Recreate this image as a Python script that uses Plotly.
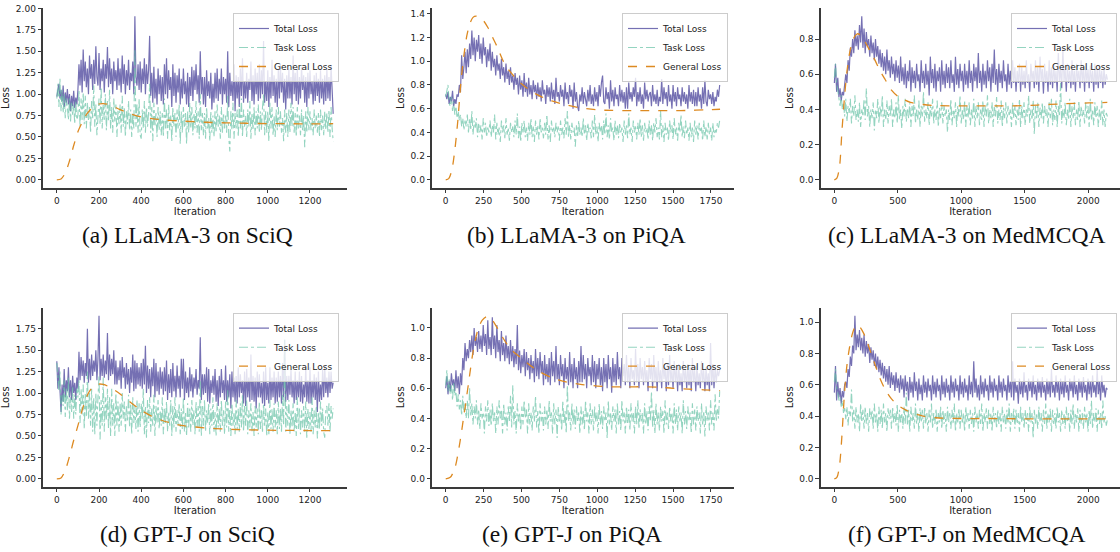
import plotly.graph_objects as go

# ---------------- data ----------------
# (a) LLaMA-3 on SciQ, sampled every 5 iterations
a_step = 5
a_total = [0.97,1.08,1.12,0.95,1.05,0.92,1.10,0.85,1.02,0.90,1.06,0.88,1.00,0.80,0.98,0.86,1.04,0.84,0.96,0.88,
           1.05,1.35,1.10,1.40,1.02,1.52,1.15,1.38,1.08,1.30,1.00,1.45,1.18,1.35,1.05,1.40,1.12,1.56,1.20,1.10,
           1.48,1.05,1.30,1.15,1.40,1.02,1.35,1.18,1.55,1.08,1.42,1.12,1.30,1.00,1.38,1.15,1.28,1.05,1.42,1.10,
           1.30,1.02,1.45,1.12,1.35,1.00,1.28,1.10,1.40,1.05,1.25,1.15,1.38,1.00,1.91,1.20,1.10,1.35,1.05,1.38,
           1.02,1.30,1.12,1.42,1.00,1.35,1.12,1.28,1.68,0.98,1.25,0.90,1.32,0.95,1.18,0.88,1.30,1.00,1.22,0.92,
           1.20,0.88,1.35,1.00,1.42,0.95,1.28,1.05,1.20,0.85,1.35,0.98,1.25,0.90,1.22,1.02,1.30,0.88,1.18,0.95,
           1.30,1.00,1.15,0.88,1.25,0.85,1.20,0.98,1.32,0.92,1.28,1.05,1.35,1.00,1.22,0.90,1.50,1.00,1.20,0.88,
           1.20,0.85,1.28,0.98,1.15,0.95,1.25,0.82,1.12,0.90,1.25,0.95,1.30,0.92,1.18,1.00,1.30,0.88,1.20,1.00,
           1.18,0.90,1.50,0.85,1.25,0.98,1.15,0.92,1.35,0.80,1.22,0.95,1.20,0.85,1.30,0.98,1.42,0.90,1.15,0.95,
           1.25,0.90,1.18,1.05,1.38,0.92,1.22,0.88,1.30,1.00,1.25,0.92,1.35,0.95,1.28,1.00,1.62,0.90,1.15,0.92,
           1.28,0.85,1.20,0.95,1.40,0.98,1.22,0.90,1.18,0.85,1.30,0.95,1.35,1.02,1.25,0.90,1.18,0.82,1.22,0.95,
           1.30,0.95,1.20,0.88,1.45,1.00,1.25,0.92,1.32,0.88,1.20,0.95,1.32,1.05,1.22,0.90,1.20,0.85,1.25,0.95,
           1.28,1.00,1.15,0.88,1.22,0.92,1.25,0.98,1.18,0.90,1.28,0.95,1.18,0.88,1.22,0.92,1.30,0.95,1.20,0.92,
           1.33,1.05,0.77]
a_task = [0.95,1.12,0.85,1.18,0.80,1.05,0.78,1.00,0.72,0.95,0.85,0.70,0.95,0.68,0.90,0.75,0.88,0.65,0.92,0.70,
          0.75,1.05,0.62,0.95,0.70,1.02,0.65,0.98,0.60,0.90,0.70,0.85,0.55,0.92,0.72,1.10,0.62,0.88,0.52,0.80,
          0.95,0.65,1.08,0.60,0.88,0.70,1.00,0.58,0.92,0.68,1.05,0.60,0.85,0.55,0.95,0.68,0.88,0.50,0.82,0.65,
          0.88,0.55,0.98,0.62,0.85,0.50,0.80,0.65,0.92,0.58,0.82,0.50,0.78,0.60,1.53,0.62,0.88,0.55,0.95,0.52,
          0.48,0.82,0.60,0.92,0.55,0.85,0.62,0.78,1.12,0.55,0.85,0.45,0.90,0.62,0.78,0.50,0.85,0.58,0.80,0.52,
          0.78,0.50,0.95,0.60,0.82,0.48,0.88,0.58,0.75,0.45,0.85,0.62,0.78,0.50,0.82,0.60,0.88,0.42,0.80,0.55,
          0.85,0.62,0.78,0.42,0.80,0.55,0.90,0.60,0.85,0.52,0.78,0.60,0.92,0.55,0.80,0.48,1.00,0.58,0.78,0.52,
          0.78,0.48,0.85,0.60,0.72,0.45,0.80,0.55,0.75,0.50,0.80,0.55,0.88,0.62,0.75,0.48,0.85,0.55,0.78,0.60,
          0.75,0.55,0.98,0.50,0.33,0.80,0.58,0.90,0.48,0.78,0.60,0.82,0.50,0.88,0.60,0.95,0.50,0.82,0.62,0.75,
          0.50,0.82,0.62,0.92,0.48,0.78,0.58,0.85,0.52,0.80,0.60,0.88,0.55,0.80,0.58,0.85,1.00,0.52,0.80,0.55,
          0.80,0.45,0.90,0.60,0.85,0.52,0.75,0.50,0.82,0.58,0.85,0.62,0.80,0.55,0.72,0.45,0.82,0.55,0.78,0.50,
          0.82,0.55,0.90,0.62,0.85,0.55,0.78,0.50,0.85,0.60,0.75,0.52,0.82,0.58,0.75,0.38,0.80,0.55,0.85,0.58,
          0.80,0.58,0.72,0.52,0.82,0.60,0.75,0.55,0.78,0.50,0.82,0.58,0.75,0.52,0.80,0.58,0.78,0.55,0.82,0.50,
          0.85,0.60,0.45]
a_gen_it = [0,20,40,60,80,100,120,140,160,180,200,220,250,300,350,400,450,500,600,700,800,900,1000,1100,1200,1310]
a_gen = [0.0,0.01,0.08,0.22,0.40,0.56,0.67,0.76,0.82,0.86,0.885,0.89,0.875,0.82,0.77,0.735,0.715,0.70,0.685,0.672,
         0.665,0.66,0.655,0.655,0.652,0.655]

# (b) LLaMA-3 on PiQA, sampled every 7.5 iterations
b_step = 7.5
b_total = [0.72,0.68,0.74,0.64,0.70,0.66,0.75,0.62,0.68,0.64,0.72,0.70,0.80,0.74,1.05,0.85,0.95,1.08,0.90,1.10,
           0.95,1.15,1.02,1.26,1.05,1.20,1.00,1.18,1.08,1.22,1.02,1.15,0.98,1.20,1.05,1.12,0.95,1.10,1.00,1.15,
           0.92,1.08,0.95,1.02,0.88,1.05,0.92,0.98,0.85,1.02,0.88,0.95,0.82,0.98,0.85,0.92,0.80,0.95,0.82,0.88,
           0.76,0.90,0.80,0.86,0.72,0.88,0.76,0.84,0.70,0.90,0.74,0.82,0.70,0.86,0.72,0.80,0.68,0.84,0.74,0.80,
           0.68,0.82,0.70,0.78,0.66,0.84,0.72,0.76,0.64,0.80,0.70,0.78,0.66,0.82,0.68,0.76,0.64,0.86,0.70,0.74,
           0.66,0.80,0.70,0.76,0.62,0.82,0.68,0.74,0.64,0.80,0.70,0.76,0.60,0.82,0.66,0.74,0.62,0.58,0.72,0.66,
           0.78,0.64,0.74,0.68,0.62,0.76,0.66,0.80,0.64,0.72,0.62,0.78,0.66,0.74,0.62,0.80,0.70,0.82,0.88,0.66,
           0.64,0.78,0.68,0.74,0.60,0.84,0.66,0.76,0.62,0.78,0.68,0.72,0.62,0.80,0.66,0.76,0.65,0.74,0.60,0.78,
           0.60,0.82,0.68,0.74,0.66,0.78,0.70,0.86,0.62,0.74,0.66,0.78,0.64,0.72,0.60,0.82,0.68,0.76,0.66,0.72,
           0.74,0.62,0.80,0.66,0.72,0.64,0.76,0.62,0.70,0.66,0.85,0.64,0.78,0.68,0.74,0.62,0.80,0.66,0.72,0.60,
           0.80,0.66,0.74,0.62,0.78,0.68,0.72,0.62,0.78,0.66,0.74,0.64,0.72,0.60,0.80,0.66,0.74,0.64,0.76,0.62,
           0.74,0.62,0.78,0.66,0.72,0.60,0.78,0.64,0.84,0.66,0.62,0.76,0.68,0.72,0.64,0.74,0.62,0.70,0.66,0.76,
           0.70,0.80]
b_task = [0.70,0.74,0.80,0.65,0.62,0.70,0.58,0.66,0.55,0.62,0.52,0.58,0.50,0.55,0.45,0.52,0.42,0.50,0.45,0.55,
          0.40,0.52,0.42,0.58,0.38,0.50,0.44,0.52,0.36,0.48,0.40,0.46,0.34,0.52,0.40,0.48,0.36,0.44,0.40,0.50,
          0.36,0.46,0.40,0.55,0.34,0.48,0.38,0.44,0.32,0.50,0.40,0.46,0.35,0.52,0.38,0.44,0.33,0.48,0.40,0.45,
          0.36,0.50,0.38,0.56,0.35,0.45,0.32,0.48,0.40,0.50,0.36,0.44,0.33,0.48,0.38,0.52,0.36,0.45,0.32,0.50,
          0.38,0.46,0.34,0.52,0.40,0.44,0.35,0.48,0.38,0.55,0.34,0.46,0.32,0.50,0.40,0.44,0.36,0.48,0.40,0.45,
          0.33,0.50,0.38,0.44,0.35,0.52,0.38,0.58,0.36,0.46,0.34,0.48,0.40,0.44,0.28,0.46,0.36,0.50,0.38,0.44,
          0.36,0.52,0.38,0.46,0.33,0.48,0.40,0.44,0.35,0.50,0.36,0.55,0.38,0.45,0.32,0.48,0.40,0.46,0.34,0.50,
          0.38,0.56,0.36,0.46,0.34,0.52,0.40,0.44,0.33,0.50,0.38,0.46,0.35,0.48,0.40,0.44,0.32,0.50,0.38,0.46,
          0.35,0.56,0.38,0.44,0.32,0.50,0.40,0.45,0.34,0.48,0.38,0.52,0.36,0.46,0.33,0.48,0.40,0.44,0.34,0.50,
          0.38,0.46,0.33,0.48,0.40,0.52,0.36,0.44,0.34,0.58,0.36,0.46,0.32,0.48,0.38,0.44,0.33,0.50,0.40,0.46,
          0.34,0.52,0.38,0.44,0.33,0.48,0.40,0.55,0.36,0.45,0.35,0.50,0.38,0.44,0.33,0.48,0.36,0.44,0.32,0.50,
          0.38,0.46,0.34,0.48,0.40,0.44,0.33,0.50,0.36,0.45,0.34,0.48,0.38,0.44,0.33,0.48,0.36,0.42,0.40,0.48,
          0.44,0.50]
b_gen_it = [0,20,40,60,80,100,120,140,160,180,200,220,250,280,310,340,380,420,460,500,550,600,650,700,800,900,
            1000,1100,1200,1300,1400,1500,1600,1700,1810]
b_gen = [0.0,0.01,0.08,0.25,0.50,0.82,1.05,1.22,1.32,1.37,1.38,1.37,1.34,1.28,1.20,1.12,1.00,0.92,0.86,0.81,
         0.76,0.72,0.69,0.665,0.63,0.605,0.59,0.585,0.583,0.583,0.583,0.583,0.585,0.59,0.595]

# (c) LLaMA-3 on MedMCQA, sampled every 9 iterations
c_step = 9
c_total = [0.55,0.66,0.50,0.58,0.47,0.52,0.45,0.50,0.48,0.56,0.60,0.55,0.68,0.62,0.75,0.70,0.80,0.72,0.85,0.76,
           0.82,0.74,0.88,0.78,0.93,0.75,0.86,0.72,0.84,0.76,0.80,0.70,0.82,0.72,0.78,0.68,0.80,0.70,0.76,0.66,
           0.74,0.64,0.72,0.62,0.70,0.60,0.74,0.62,0.68,0.58,0.70,0.60,0.66,0.56,0.68,0.58,0.65,0.55,0.70,0.56,
           0.64,0.54,0.66,0.52,0.62,0.56,0.68,0.50,0.64,0.55,0.62,0.52,0.66,0.56,0.60,0.50,0.68,0.55,0.62,0.52,
           0.66,0.54,0.62,0.48,0.70,0.55,0.63,0.52,0.66,0.50,0.62,0.56,0.64,0.50,0.68,0.54,0.62,0.52,0.66,0.55,
           0.64,0.52,0.68,0.55,0.60,0.50,0.70,0.54,0.63,0.52,0.66,0.56,0.62,0.50,0.66,0.54,0.62,0.52,0.68,0.55,
           0.62,0.50,0.66,0.56,0.64,0.52,0.72,0.55,0.62,0.50,0.66,0.54,0.62,0.52,0.68,0.56,0.64,0.50,0.66,0.55,
           0.74,0.54,0.63,0.50,0.66,0.55,0.62,0.52,0.68,0.56,0.60,0.50,0.66,0.54,0.62,0.52,0.68,0.55,0.64,0.50,
           0.62,0.55,0.66,0.50,0.64,0.54,0.62,0.52,0.68,0.55,0.60,0.50,0.66,0.56,0.62,0.52,0.68,0.54,0.64,0.50,
           0.70,0.56,0.63,0.49,0.66,0.55,0.62,0.50,0.68,0.54,0.64,0.52,0.66,0.55,0.62,0.50,0.72,0.56,0.63,0.52,
           0.75,0.56,0.63,0.50,0.66,0.55,0.62,0.52,0.68,0.54,0.62,0.50,0.66,0.56,0.62,0.52,0.68,0.55,0.64,0.50,
           0.66,0.55,0.63,0.52,0.65,0.55,0.62,0.50,0.66,0.54,0.63,0.52,0.65,0.55,0.62,0.52,0.64,0.54,0.60,0.57]
c_task = [0.58,0.66,0.55,0.50,0.46,0.42,0.48,0.40,0.44,0.36,0.46,0.33,0.42,0.38,0.46,0.32,0.42,0.36,0.48,0.34,
          0.40,0.33,0.44,0.30,0.40,0.36,0.46,0.34,0.52,0.36,0.42,0.30,0.40,0.35,0.44,0.28,0.40,0.35,0.46,0.32,
          0.42,0.36,0.48,0.30,0.40,0.34,0.45,0.32,0.42,0.36,0.46,0.30,0.40,0.35,0.44,0.32,0.48,0.34,0.40,0.29,
          0.42,0.36,0.46,0.33,0.40,0.35,0.44,0.30,0.42,0.36,0.48,0.32,0.40,0.34,0.45,0.30,0.42,0.36,0.50,0.33,
          0.40,0.35,0.44,0.31,0.42,0.36,0.46,0.32,0.40,0.34,0.45,0.30,0.41,0.35,0.44,0.32,0.42,0.36,0.40,0.27,
          0.40,0.34,0.46,0.31,0.40,0.35,0.44,0.30,0.42,0.36,0.48,0.32,0.40,0.34,0.45,0.30,0.42,0.35,0.44,0.31,
          0.40,0.34,0.46,0.30,0.42,0.35,0.44,0.31,0.40,0.34,0.45,0.30,0.42,0.36,0.48,0.32,0.40,0.35,0.44,0.30,
          0.42,0.36,0.47,0.32,0.40,0.34,0.45,0.30,0.41,0.35,0.44,0.32,0.42,0.36,0.40,0.30,0.44,0.35,0.42,0.31,
          0.40,0.34,0.46,0.30,0.42,0.35,0.44,0.31,0.40,0.36,0.48,0.32,0.40,0.34,0.45,0.26,0.42,0.35,0.44,0.30,
          0.41,0.35,0.44,0.32,0.42,0.36,0.40,0.30,0.44,0.35,0.46,0.31,0.40,0.34,0.45,0.30,0.42,0.36,0.55,0.32,
          0.40,0.35,0.44,0.31,0.40,0.34,0.46,0.30,0.42,0.35,0.44,0.31,0.40,0.34,0.45,0.30,0.42,0.36,0.40,0.32,
          0.44,0.35,0.42,0.30,0.46,0.34,0.40,0.31,0.44,0.35,0.42,0.30,0.40,0.34,0.45,0.31,0.40,0.30,0.38,0.36]
c_gen_it = [0,20,40,60,80,100,120,140,160,180,200,230,260,290,320,360,400,450,500,550,600,700,800,1000,1200,
            1400,1600,1800,2000,2150]
c_gen = [0.0,0.01,0.07,0.28,0.47,0.62,0.72,0.78,0.815,0.83,0.825,0.80,0.76,0.72,0.68,0.62,0.57,0.51,0.475,0.455,
         0.44,0.428,0.422,0.42,0.42,0.42,0.425,0.432,0.437,0.44]

# (d) GPT-J on SciQ, sampled every 5 iterations
d_step = 5
d_total = [1.37,1.05,1.30,1.00,0.78,1.10,0.90,1.28,0.95,1.15,1.02,1.30,0.95,1.15,0.92,1.20,1.00,1.12,0.92,1.18,
           1.05,1.48,1.15,1.42,1.20,1.38,1.12,1.35,1.20,1.75,1.12,1.40,1.15,1.45,1.20,1.38,1.25,1.50,1.15,1.40,
           1.90,1.15,1.40,1.20,1.45,1.18,1.38,1.22,1.70,1.15,1.45,1.20,1.40,1.22,1.50,1.10,1.38,1.10,1.30,1.15,
           1.38,1.05,1.42,1.18,1.30,1.05,1.35,1.10,1.28,1.00,1.30,1.12,1.45,1.02,1.38,1.05,1.35,1.10,1.30,1.08,
           1.35,1.05,1.40,1.10,1.55,1.00,1.32,1.05,1.28,0.95,1.30,1.08,1.40,0.95,1.35,1.02,1.25,0.98,1.30,1.05,
           1.25,0.98,1.30,1.02,1.38,0.92,1.22,1.00,1.28,0.95,1.35,1.02,1.20,0.95,1.32,1.05,1.20,0.95,1.40,1.05,
           1.40,0.92,1.25,1.00,1.18,0.95,1.30,1.02,1.22,0.95,1.18,1.05,1.28,0.98,1.15,1.05,1.65,0.92,1.22,0.98,
           1.22,1.00,1.30,0.90,1.28,0.88,1.15,1.00,1.20,0.98,1.28,0.90,1.15,0.85,1.20,0.95,1.28,1.00,1.15,0.92,
           1.32,0.90,1.15,0.95,1.22,0.82,1.25,0.95,1.18,0.90,1.20,0.88,1.30,0.95,1.22,1.00,1.15,0.88,1.25,0.85,
           1.28,0.95,1.18,0.90,1.45,0.92,1.20,0.90,1.18,0.82,1.25,0.95,1.22,0.95,1.12,0.88,1.25,0.85,1.30,0.92,
           1.12,0.88,1.30,0.92,1.18,0.95,1.25,0.88,1.18,0.90,1.25,0.95,1.20,0.88,1.35,0.95,1.62,0.90,1.20,0.92,
           1.20,0.98,1.28,0.95,1.15,0.88,1.25,0.92,1.15,0.95,1.25,0.90,1.20,0.88,1.10,0.95,1.30,0.90,1.15,0.88,
           1.30,0.88,1.15,0.95,1.22,0.92,1.18,0.78,1.25,0.90,1.10,0.92,1.28,0.95,1.32,1.00,1.18,0.95,1.25,1.00,
           1.25,1.05,1.12]
d_task = [1.35,1.15,1.02,1.25,0.75,0.98,0.85,1.15,0.72,1.05,0.80,1.18,0.70,0.95,0.78,1.08,0.70,0.98,0.75,1.05,
          0.95,1.15,0.65,1.05,0.75,1.10,0.58,1.00,0.72,1.25,0.70,1.00,0.62,1.05,0.55,0.95,0.52,1.00,0.62,0.95,
          1.20,0.46,0.92,0.62,1.18,0.55,0.95,0.68,1.05,0.58,0.95,0.50,1.05,0.62,0.88,0.50,1.00,0.62,0.90,0.55,
          0.88,0.62,1.00,0.70,0.90,0.55,0.85,0.68,0.98,0.60,0.88,0.52,0.95,0.65,0.85,0.58,0.92,0.55,0.88,0.60,
          0.88,0.70,1.05,0.52,0.85,0.48,0.92,0.65,0.95,0.55,0.82,0.62,0.98,0.50,0.85,0.65,0.92,0.58,0.80,0.62,
          0.95,0.52,0.82,0.65,0.90,0.55,0.78,0.62,0.92,0.50,0.85,0.60,0.95,0.55,0.80,0.62,0.88,0.52,0.82,0.58,
          0.95,0.55,0.78,0.50,0.88,0.60,0.82,0.55,0.92,0.62,0.80,0.52,0.90,0.60,0.85,0.55,1.15,0.50,0.85,0.62,
          0.92,0.55,0.80,0.65,0.88,0.52,0.82,0.62,0.95,0.55,0.78,0.50,0.88,0.60,0.82,0.55,0.92,0.62,0.80,0.52,
          0.90,0.60,1.05,0.55,0.82,0.50,0.88,0.62,0.78,0.52,0.92,0.58,0.82,0.55,0.88,0.60,0.98,0.55,0.85,0.62,
          0.92,0.52,0.80,0.60,0.88,0.55,0.78,0.50,0.85,0.60,0.82,0.52,0.90,0.58,0.80,0.55,0.88,0.62,0.82,0.50,
          0.78,0.52,0.92,0.58,0.82,0.55,0.88,0.60,0.80,0.52,0.90,0.58,0.82,0.55,0.98,0.62,1.62,0.55,0.85,0.62,
          0.92,0.52,0.80,0.60,0.88,0.55,0.78,0.50,0.95,0.58,0.82,0.52,0.80,0.60,0.85,0.55,0.90,0.48,0.82,0.58,
          0.78,0.55,0.95,0.52,0.80,0.60,0.85,0.47,0.78,0.58,0.90,0.62,0.82,0.55,0.48,0.80,0.85,0.62,0.88,0.55,
          0.85,0.70,0.82]
d_gen_it = [0,20,40,60,80,100,120,140,160,180,200,220,250,300,350,400,450,500,550,600,700,800,900,1000,1100,1200,1310]
d_gen = [0.0,0.01,0.10,0.26,0.45,0.62,0.80,0.95,1.04,1.09,1.105,1.10,1.07,0.99,0.89,0.80,0.73,0.68,0.645,0.62,
         0.595,0.58,0.572,0.567,0.565,0.563,0.563]

# (e) GPT-J on PiQA, sampled every 7.5 iterations
e_step = 7.5
e_total = [0.60,0.68,0.56,0.65,0.58,0.70,0.62,0.66,0.58,0.72,0.60,0.68,0.56,0.70,0.62,0.80,0.72,0.90,0.78,0.86,
           0.80,0.92,0.84,0.95,0.82,1.00,0.88,0.94,0.84,0.98,0.86,0.95,0.84,1.02,0.88,0.96,0.82,1.05,0.86,0.94,
           0.82,1.07,0.86,0.95,0.80,1.02,0.84,0.92,0.78,0.98,0.82,0.90,0.78,0.95,0.80,0.88,0.76,0.92,0.78,0.88,
           0.74,0.86,0.76,1.02,0.72,0.85,0.70,0.82,0.74,0.86,0.68,0.84,0.72,0.80,0.66,0.82,0.70,0.78,0.64,0.86,
           0.68,0.80,0.66,0.84,0.70,0.78,0.62,0.82,0.66,0.76,0.64,0.80,0.62,0.84,0.68,0.78,0.64,0.88,0.66,0.76,
           0.62,0.82,0.68,0.76,0.60,0.80,0.66,0.74,0.62,0.84,0.64,0.76,0.60,0.80,0.66,0.74,0.60,0.78,0.64,0.88,
           0.64,0.82,0.66,0.76,0.60,0.80,0.68,0.74,0.62,0.82,0.64,0.78,0.60,0.76,0.66,0.80,0.62,0.74,0.58,0.80,
           0.64,0.76,0.60,0.82,0.66,0.74,0.57,0.80,0.64,0.76,0.62,0.84,0.66,0.74,0.60,0.80,0.68,0.76,0.62,0.82,
           0.64,0.74,0.60,0.80,0.66,0.72,0.62,0.86,0.64,0.76,0.60,0.80,0.66,0.74,0.62,0.78,0.64,0.72,0.58,0.80,
           0.66,0.76,0.60,0.82,0.64,0.74,0.58,0.78,0.64,0.72,0.60,0.80,0.66,0.74,0.58,0.76,0.62,0.82,0.64,0.72,
           0.60,0.78,0.64,0.74,0.58,0.76,0.62,0.70,0.58,0.78,0.64,0.72,0.60,0.76,0.62,0.74,0.58,0.80,0.64,0.72,
           0.58,0.76,0.62,0.70,0.60,0.78,0.64,0.72,0.58,0.74,0.62,0.70,0.58,0.90,0.62,0.76,0.60,0.74,0.64,0.72,
           0.68,0.72]
e_task = [0.62,0.72,0.58,0.66,0.56,0.62,0.52,0.64,0.55,0.58,0.48,0.56,0.46,0.52,0.42,0.55,0.44,0.50,0.40,0.52,
          0.40,0.60,0.42,0.50,0.36,0.48,0.40,0.52,0.36,0.46,0.33,0.50,0.40,0.44,0.30,0.48,0.38,0.52,0.35,0.46,
          0.35,0.50,0.38,0.44,0.30,0.48,0.36,0.52,0.40,0.46,0.30,0.50,0.36,0.44,0.32,0.48,0.38,0.55,0.34,0.62,
          0.36,0.45,0.30,0.50,0.38,0.44,0.32,0.48,0.36,0.52,0.40,0.46,0.30,0.50,0.36,0.44,0.32,0.48,0.38,0.55,
          0.34,0.45,0.30,0.50,0.38,0.44,0.32,0.48,0.36,0.46,0.33,0.52,0.38,0.44,0.30,0.50,0.36,0.46,0.27,0.48,
          0.38,0.44,0.32,0.52,0.36,0.45,0.30,0.62,0.38,0.44,0.32,0.50,0.36,0.46,0.33,0.48,0.38,0.44,0.30,0.48,
          0.36,0.45,0.32,0.52,0.38,0.44,0.30,0.50,0.36,0.46,0.32,0.48,0.38,0.44,0.30,0.50,0.36,0.45,0.33,0.48,
          0.38,0.44,0.27,0.52,0.36,0.44,0.32,0.48,0.38,0.46,0.30,0.50,0.36,0.45,0.32,0.52,0.38,0.44,0.30,0.48,
          0.36,0.46,0.32,0.50,0.38,0.44,0.30,0.48,0.36,0.52,0.33,0.46,0.38,0.44,0.30,0.50,0.36,0.45,0.32,0.48,
          0.38,0.58,0.34,0.46,0.30,0.50,0.36,0.44,0.32,0.48,0.38,0.45,0.30,0.52,0.36,0.44,0.33,0.48,0.38,0.44,
          0.30,0.50,0.36,0.46,0.32,0.48,0.38,0.44,0.30,0.52,0.36,0.45,0.33,0.48,0.38,0.44,0.30,0.50,0.36,0.46,
          0.32,0.48,0.38,0.44,0.30,0.50,0.36,0.45,0.28,0.48,0.38,0.44,0.32,0.52,0.36,0.44,0.32,0.56,0.38,0.46,
          0.40,0.58]
e_gen_it = [0,30,60,90,120,150,180,210,240,270,300,340,380,420,460,500,560,620,700,800,900,1000,1100,1200,1300,
            1400,1500,1600,1700,1810]
e_gen = [0.0,0.01,0.07,0.22,0.42,0.63,0.84,0.98,1.05,1.075,1.06,1.00,0.93,0.87,0.83,0.80,0.75,0.71,0.67,0.64,
         0.625,0.615,0.61,0.61,0.61,0.608,0.60,0.595,0.59,0.585]

# (f) GPT-J on MedMCQA, sampled every 9 iterations
f_step = 9
f_total = [0.55,0.72,0.50,0.62,0.52,0.58,0.48,0.56,0.52,0.60,0.62,0.58,0.70,0.65,0.78,0.72,0.85,0.80,1.04,0.82,
           0.92,0.84,0.95,0.82,0.90,0.80,0.92,0.78,0.88,0.80,0.86,0.74,0.84,0.76,0.82,0.72,0.80,0.70,0.78,0.68,
           0.76,0.66,0.74,0.64,0.72,0.62,0.70,0.60,0.72,0.58,0.68,0.60,0.66,0.56,0.68,0.58,0.64,0.55,0.66,0.57,
           0.64,0.52,0.66,0.56,0.62,0.50,0.65,0.55,0.62,0.52,0.68,0.56,0.62,0.50,0.64,0.54,0.60,0.50,0.66,0.55,
           0.62,0.52,0.64,0.56,0.60,0.50,0.66,0.54,0.62,0.52,0.64,0.56,0.60,0.50,0.66,0.54,0.62,0.52,0.64,0.55,
           0.60,0.50,0.66,0.55,0.62,0.52,0.64,0.56,0.60,0.50,0.66,0.54,0.62,0.52,0.64,0.55,0.60,0.50,0.66,0.54,
           0.62,0.52,0.75,0.55,0.64,0.52,0.60,0.50,0.66,0.54,0.62,0.52,0.64,0.56,0.60,0.50,0.66,0.55,0.62,0.52,
           0.64,0.56,0.60,0.50,0.66,0.55,0.62,0.52,0.64,0.56,0.60,0.50,0.66,0.55,0.62,0.52,0.75,0.50,0.64,0.55,
           0.60,0.48,0.64,0.54,0.62,0.52,0.68,0.55,0.60,0.50,0.64,0.56,0.62,0.52,0.66,0.54,0.60,0.50,0.64,0.55,
           0.62,0.52,0.65,0.55,0.60,0.50,0.64,0.54,0.62,0.52,0.70,0.55,0.60,0.52,0.66,0.55,0.62,0.50,0.64,0.54,
           0.62,0.52,0.66,0.55,0.60,0.50,0.64,0.56,0.62,0.52,0.66,0.54,0.60,0.50,0.64,0.55,0.62,0.52,0.65,0.55,
           0.60,0.50,0.64,0.54,0.62,0.52,0.66,0.55,0.60,0.52,0.70,0.54,0.62,0.50,0.66,0.55,0.60,0.52,0.58,0.57]
f_task = [0.62,0.70,0.58,0.55,0.50,0.52,0.46,0.50,0.42,0.46,0.38,0.46,0.34,0.44,0.40,0.57,0.36,0.44,0.32,0.46,
          0.36,0.42,0.30,0.48,0.36,0.44,0.32,0.46,0.35,0.42,0.30,0.45,0.38,0.44,0.32,0.48,0.36,0.42,0.30,0.46,
          0.35,0.44,0.32,0.48,0.36,0.42,0.30,0.45,0.38,0.44,0.32,0.46,0.36,0.42,0.34,0.48,0.30,0.44,0.36,0.42,
          0.32,0.46,0.35,0.55,0.34,0.44,0.30,0.46,0.36,0.42,0.32,0.48,0.35,0.42,0.30,0.45,0.36,0.44,0.32,0.46,
          0.35,0.42,0.30,0.44,0.36,0.48,0.32,0.42,0.35,0.45,0.30,0.42,0.36,0.46,0.32,0.44,0.35,0.42,0.30,0.46,
          0.36,0.42,0.32,0.44,0.35,0.48,0.30,0.42,0.36,0.45,0.32,0.44,0.35,0.42,0.30,0.46,0.36,0.42,0.32,0.44,
          0.35,0.42,0.30,0.46,0.36,0.42,0.32,0.44,0.35,0.48,0.30,0.42,0.36,0.45,0.32,0.44,0.35,0.42,0.30,0.46,
          0.36,0.42,0.32,0.44,0.35,0.42,0.30,0.46,0.36,0.42,0.32,0.44,0.35,0.48,0.30,0.42,0.36,0.45,0.32,0.44,
          0.35,0.42,0.30,0.46,0.36,0.42,0.32,0.44,0.35,0.42,0.30,0.46,0.36,0.42,0.26,0.44,0.35,0.42,0.32,0.46,
          0.36,0.42,0.30,0.44,0.35,0.48,0.32,0.42,0.36,0.45,0.30,0.44,0.35,0.42,0.32,0.46,0.36,0.42,0.30,0.44,
          0.35,0.42,0.32,0.46,0.36,0.42,0.30,0.44,0.35,0.48,0.32,0.42,0.36,0.45,0.30,0.44,0.35,0.42,0.32,0.46,
          0.36,0.42,0.30,0.44,0.35,0.50,0.32,0.42,0.36,0.45,0.30,0.44,0.35,0.42,0.32,0.50,0.36,0.40,0.34,0.38]
f_gen_it = [0,20,40,60,80,100,120,140,160,180,200,230,260,290,320,360,400,450,500,550,600,700,800,1000,1200,
            1500,1800,2000,2150]
f_gen = [0.0,0.01,0.08,0.28,0.55,0.73,0.84,0.92,0.965,0.98,0.97,0.93,0.87,0.80,0.73,0.64,0.57,0.51,0.47,0.445,
         0.425,0.40,0.39,0.385,0.385,0.383,0.383,0.383,0.383]

captions = ["(a) LLaMA-3 on SciQ", "(b) LLaMA-3 on PiQA", "(c) LLaMA-3 on MedMCQA",
            "(d) GPT-J on SciQ", "(e) GPT-J on PiQA", "(f) GPT-J on MedMCQA"]
series_names = ["Total Loss", "Task Loss", "General Loss"]

# ---------------- layout geometry ----------------
W, H = 1120, 552
panels = [
    dict(step=a_step, total=a_total, task=a_task, git=a_gen_it, gen=a_gen,
         px=(43, 347), py=(8, 188), xr=[-65.5, 1375.5], yr=[-0.0955, 2.0055], dx=200, dy=0.25, yf=".2f",
         leg=(339, 13), cap=(188, 235)),
    dict(step=b_step, total=b_total, task=b_task, git=b_gen_it, gen=b_gen,
         px=(432, 733.7), py=(8, 188), xr=[-90.5, 1900], yr=[-0.069, 1.449], dx=250, dy=0.2, yf=".1f",
         leg=(728, 13), cap=(576.5, 235)),
    dict(step=c_step, total=c_total, task=c_task, git=c_gen_it, gen=c_gen,
         px=(820.7, 1120), py=(8, 188), xr=[-107.5, 2250], yr=[-0.0465, 0.9765], dx=500, dy=0.2, yf=".1f",
         leg=(1117, 13), cap=(966, 235)),
    dict(step=d_step, total=d_total, task=d_task, git=d_gen_it, gen=d_gen,
         px=(43, 347), py=(307.7, 487), xr=[-65.5, 1375.5], yr=[-0.095, 1.995], dx=200, dy=0.25, yf=".2f",
         leg=(339, 312.7), cap=(188, 534)),
    dict(step=e_step, total=e_total, task=e_task, git=e_gen_it, gen=e_gen,
         px=(432, 733.7), py=(307.7, 487), xr=[-90.5, 1900], yr=[-0.054, 1.134], dx=250, dy=0.2, yf=".1f",
         leg=(728, 312.7), cap=(572, 534)),
    dict(step=f_step, total=f_total, task=f_task, git=f_gen_it, gen=f_gen,
         px=(820.7, 1120), py=(307.7, 487), xr=[-107.5, 2250], yr=[-0.052, 1.092], dx=500, dy=0.2, yf=".1f",
         leg=(1117, 312.7), cap=(966, 534)),
]

C_TOTAL = "#7570b3"
C_TASK = "rgba(102,194,165,0.7)"
C_GEN = "#dd8a22"
SPINE = "#3a3a3a"

fig = go.Figure()
layout = dict(width=W, height=H, margin=dict(l=0, r=0, t=0, b=0),
              paper_bgcolor="white", plot_bgcolor="white", showlegend=True,
              font=dict(family="DejaVu Sans", size=9, color="#222"))
annotations = []

for k, p in enumerate(panels):
    n = k + 1
    xa = "x" if n == 1 else f"x{n}"
    ya = "y" if n == 1 else f"y{n}"
    lg = "legend" if n == 1 else f"legend{n}"
    xs_t = [i * p["step"] for i in range(len(p["total"]))]
    xs_k = [i * p["step"] for i in range(len(p["task"]))]
    fig.add_trace(go.Scatter(x=xs_t, y=p["total"], mode="lines", name=series_names[0],
                             line=dict(color=C_TOTAL, width=1.2), xaxis=xa, yaxis=ya, legend=lg))
    fig.add_trace(go.Scatter(x=xs_k, y=p["task"], mode="lines", name=series_names[1],
                             line=dict(color=C_TASK, width=1.1, dash="dashdot"), xaxis=xa, yaxis=ya, legend=lg))
    fig.add_trace(go.Scatter(x=p["git"], y=p["gen"], mode="lines", name=series_names[2],
                             line=dict(color=C_GEN, width=1.3, dash="dash", shape="spline", smoothing=0.8),
                             xaxis=xa, yaxis=ya, legend=lg))

    axis_common = dict(showline=True, linecolor=SPINE, linewidth=1.6, ticks="outside", ticklen=3.5,
                       tickwidth=1, tickcolor=SPINE, showgrid=False, zeroline=False, automargin=False,
                       tickfont=dict(family="DejaVu Sans", size=9, color="#222"))
    layout["xaxis" if n == 1 else f"xaxis{n}"] = dict(
        axis_common, domain=[p["px"][0] / W, p["px"][1] / W], range=p["xr"], dtick=p["dx"], tick0=0,
        anchor=ya, title=dict(text="Iteration", standoff=3, font=dict(family="DejaVu Sans", size=10)))
    layout["yaxis" if n == 1 else f"yaxis{n}"] = dict(
        axis_common, domain=[1 - p["py"][1] / H, 1 - p["py"][0] / H], range=p["yr"], dtick=p["dy"], tick0=0,
        tickformat=p["yf"], anchor=xa,
        title=dict(text="Loss", standoff=4, font=dict(family="DejaVu Sans", size=10)))
    layout[lg] = dict(x=p["leg"][0] / W, y=1 - p["leg"][1] / H, xanchor="right", yanchor="top",
                      bgcolor="rgba(255,255,255,0.8)", bordercolor="#cccccc", borderwidth=1,
                      itemwidth=30,
                      font=dict(family="DejaVu Sans", size=9, color="#222"), tracegroupgap=0)
    annotations.append(dict(text=captions[k], x=p["cap"][0] / W, y=1 - p["cap"][1] / H,
                            xref="paper", yref="paper", xanchor="center", yanchor="middle",
                            showarrow=False, font=dict(family="Liberation Serif", size=23.5, color="#111")))

layout["annotations"] = annotations
fig.update_layout(**layout)
fig.write_html("out.html", config={"displayModeBar": False},
               post_script="document.body.style.margin='0';document.body.style.overflow='hidden';")
